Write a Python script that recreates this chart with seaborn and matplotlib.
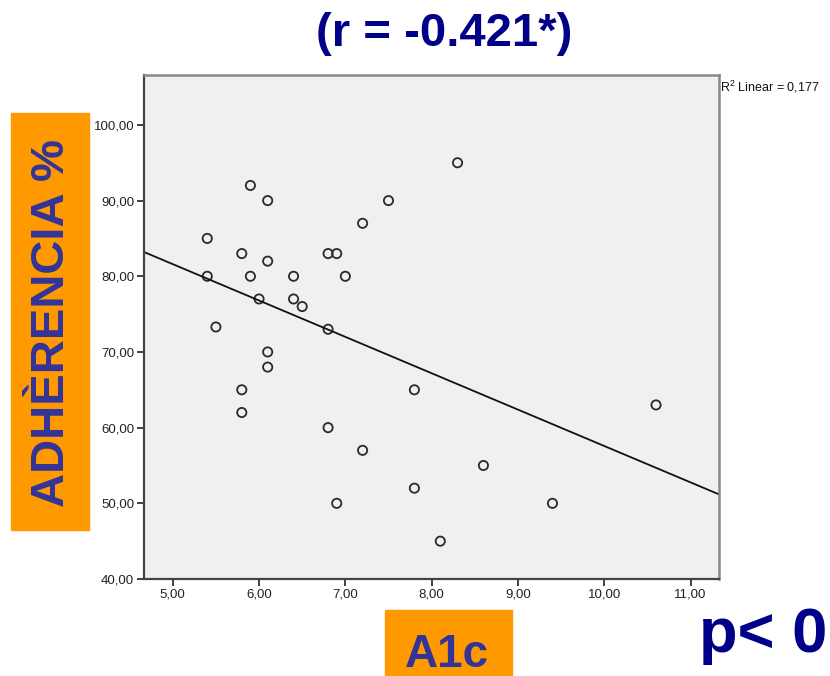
import matplotlib
matplotlib.use('Agg')
import matplotlib.pyplot as plt
import matplotlib.patches as mpatches
from matplotlib.ticker import FuncFormatter
import seaborn as sns
import pandas as pd

# values
a1c = [5.9, 6.1, 7.5, 7.2, 5.4, 5.8, 6.1, 6.8, 6.9, 5.4, 5.9, 6.4, 7.0, 6.0, 6.4, 6.5,
       5.5, 6.8, 6.1, 6.1, 5.8, 5.8, 6.8, 7.2, 7.8, 7.8, 6.9, 8.1, 8.3, 10.6, 8.6, 9.4]
adherencia = [92, 90, 90, 87, 85, 83, 82, 83, 83, 80, 80, 80, 80, 77, 77, 76,
              73.3, 73, 70, 68, 65, 62, 60, 57, 65, 52, 50, 45, 95, 63, 55, 50]
x_ticks = [5, 6, 7, 8, 9, 10, 11]
y_ticks = [40, 50, 60, 70, 80, 90, 100]

df = pd.DataFrame({'A1c': a1c, 'Adherencia': adherencia})

sns.set_style('white')
plt.rcParams['font.family'] = ['Liberation Sans', 'DejaVu Sans']
plt.rcParams['mathtext.default'] = 'regular'

fig = plt.figure(figsize=(8.3, 6.76), dpi=100)
ax = fig.add_axes([0.1735, 0.1435, 0.6928, 0.7456])
ax.set_facecolor('#f0f0f0')
ax.set_xlim(4.667, 11.33)
ax.set_ylim(40, 106.6)

sns.regplot(data=df, x='A1c', y='Adherencia', ax=ax, ci=None, truncate=False,
            scatter_kws=dict(s=44, facecolors='none', edgecolors='#2a2a2a',
                             linewidths=1.3, alpha=1),
            line_kws=dict(color='#111111', lw=1.3))
ax.set_xlim(4.667, 11.33)
ax.set_ylim(40, 106.6)

ax.set_xticks(x_ticks)
ax.set_yticks(y_ticks)
fmt = FuncFormatter(lambda v, p: f'{v:.2f}'.replace('.', ','))
ax.xaxis.set_major_formatter(fmt)
ax.yaxis.set_major_formatter(fmt)
ax.tick_params(direction='out', length=5, width=1.3, color='#333333',
               labelsize=9.5, labelcolor='#222222', pad=2,
               bottom=True, left=True)
ax.set_xlabel('')
ax.set_ylabel('')
for side in ['left', 'bottom']:
    ax.spines[side].set_color('#444444')
    ax.spines[side].set_linewidth(1.6)
for side in ['top', 'right']:
    ax.spines[side].set_color('#888888')
    ax.spines[side].set_linewidth(1.8)

ax.text(1.002, 0.993, 'R$^2$ Linear = 0,177', transform=ax.transAxes,
        ha='left', va='top', fontsize=9, color='#111111')

# title and annotations
fig.text(444 / 830, 1 - 34 / 676, '(r = -0.421*)', ha='center', va='center',
         fontsize=34, fontweight='bold', color='#000088')

fig.patches.append(mpatches.Rectangle((11 / 830, 1 - 530 / 676), 78 / 830, 417 / 676,
                                      transform=fig.transFigure, color='#ff9900', zorder=0))
fig.text(52 / 830, 1 - 323 / 676, 'ADHÈRENCIA %', rotation=90, ha='center', va='center',
         fontsize=34, fontweight='bold', color='#333399')

fig.patches.append(mpatches.Rectangle((385 / 830, 0), 127 / 830, 66 / 676,
                                      transform=fig.transFigure, color='#ff9900', zorder=0))
fig.text(447 / 830, 1 - 667 / 676, 'A1c', ha='center', va='baseline',
         fontsize=33, fontweight='bold', color='#333399')

fig.text(699 / 830, 1 - 652 / 676, 'p< 0', ha='left', va='baseline',
         fontsize=45.5, fontweight='bold', color='#000088')

fig.savefig('out.png', dpi=100)
